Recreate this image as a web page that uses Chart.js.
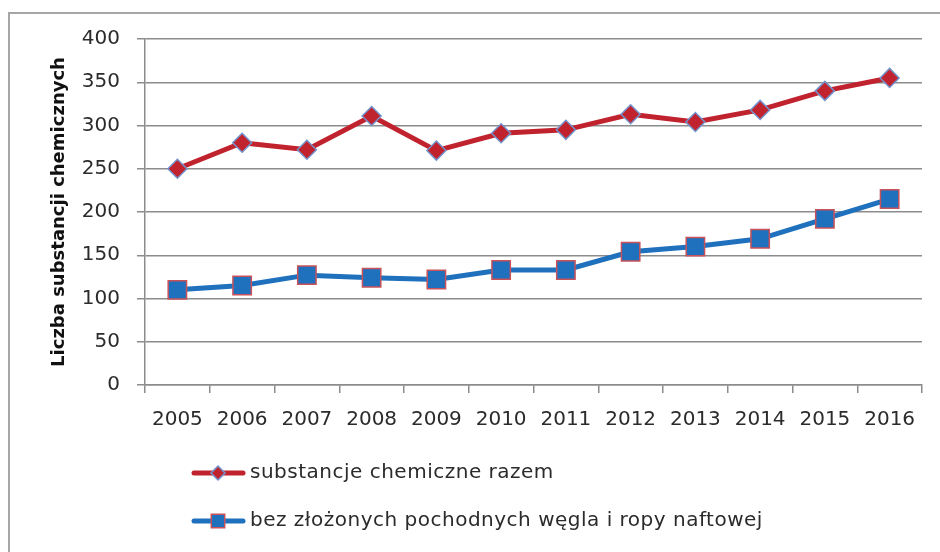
<!DOCTYPE html>
<html lang="pl">

<head>
    <meta charset="UTF-8" />
    <title>Liczba substancji chemicznych</title>
    <script src="https://cdn.jsdelivr.net/npm/chart.js"></script>
    <style>
        body { margin: 0; background: #fff; }
        .ramka {
            position: absolute; left: 8px; top: 12px; width: 1000px; height: 600px;
            border-left: 2px solid #a6a6a6; border-top: 2px solid #a6a6a6;
        }
        .wykres { position: absolute; left: 0; top: 0; width: 940px; height: 552px; }
    </style>
</head>

<body>
    <div class="ramka"></div>
    <div class="wykres">
        <canvas id="grafico" width="940" height="552"></canvas>
    </div>
</body>

</html>

<script>
    // dane
    const lata = ['2005', '2006', '2007', '2008', '2009', '2010', '2011', '2012', '2013', '2014', '2015', '2016'];
    const razem = [250, 280, 272, 311, 271, 291, 295, 313, 304, 318, 340, 355];
    const bezWegla = [110, 115, 127, 124, 122, 133, 133, 154, 160, 169, 192, 215];
    const nazwySerii = ['substancje chemiczne razem', 'bez złożonych pochodnych węgla i ropy naftowej'];
    const tytulOsiY = 'Liczba substancji chemicznych';

    const czcionka = 'DejaVu Sans';
    const kolorTekstu = '#2b2b2b';
    const kolorSiatki = '#8c8c8c';

    // legenda pionowa pod wykresem (jak w Excelu)
    const legendaPionowa = {
        id: 'legendaPionowa',
        afterDraw(chart) {
            const ctx = chart.ctx;
            const pozycjeY = [473, 521];
            chart.data.datasets.forEach((ds, i) => {
                const y = pozycjeY[i];
                ctx.save();
                ctx.strokeStyle = ds.borderColor;
                ctx.lineWidth = ds.borderWidth;
                ctx.lineCap = 'round';
                ctx.beginPath();
                ctx.moveTo(194, y);
                ctx.lineTo(243, y);
                ctx.stroke();
                ctx.fillStyle = ds.pointBackgroundColor;
                ctx.strokeStyle = ds.pointBorderColor;
                ctx.lineWidth = ds.pointBorderWidth;
                Chart.helpers.drawPoint(ctx, {
                    pointStyle: ds.pointStyle,
                    radius: i === 0 ? 7 : 9.5,
                    borderWidth: ds.pointBorderWidth
                }, 218, y);
                ctx.fillStyle = kolorTekstu;
                ctx.font = `20px "${czcionka}"`;
                ctx.letterSpacing = '0.5px';
                ctx.textBaseline = 'middle';
                ctx.fillText(ds.label, 250, y);
                ctx.restore();
            });
        }
    };

    const ctx = document.getElementById('grafico').getContext('2d');

    new Chart(ctx, {
        type: 'line',
        data: {
            labels: lata,
            datasets: [
                {
                    label: nazwySerii[0],
                    data: razem,
                    borderColor: '#c0232d',
                    borderWidth: 5,
                    pointStyle: 'rectRot',
                    pointRadius: 9.5,
                    pointBackgroundColor: '#c0232d',
                    pointBorderColor: '#7393cc',
                    pointBorderWidth: 1.5,
                    tension: 0
                },
                {
                    label: nazwySerii[1],
                    data: bezWegla,
                    borderColor: '#1f70bd',
                    borderWidth: 5,
                    pointStyle: 'rect',
                    pointRadius: 13,
                    pointBackgroundColor: '#1f70bd',
                    pointBorderColor: '#c9525a',
                    pointBorderWidth: 1.5,
                    tension: 0
                }
            ]
        },
        options: {
            responsive: false,
            animation: false,
            devicePixelRatio: 1,
            layout: {
                padding: { top: 39, right: 18, bottom: 0, left: 0 }
            },
            scales: {
                x: {
                    offset: true,
                    afterFit: s => { s.height = 167; },
                    ticks: {
                        color: kolorTekstu,
                        padding: 15,
                        maxRotation: 0,
                        font: { family: czcionka, size: 20 }
                    },
                    grid: {
                        offset: true,
                        drawOnChartArea: false,
                        tickLength: 8,
                        color: kolorSiatki,
                        lineWidth: 1.5
                    },
                    border: { color: kolorSiatki, width: 1.5 }
                },
                y: {
                    min: 0,
                    max: 400,
                    afterFit: s => { s.width = 145; },
                    ticks: {
                        stepSize: 50,
                        color: kolorTekstu,
                        padding: 17,
                        font: { family: czcionka, size: 20 }
                    },
                    grid: {
                        tickLength: 8,
                        color: kolorSiatki,
                        lineWidth: 1.5
                    },
                    border: { color: kolorSiatki, width: 1.5 },
                    title: {
                        display: true,
                        text: tytulOsiY,
                        color: '#111111',
                        padding: { top: 49, bottom: 0 },
                        font: { family: czcionka, size: 18, weight: 'bold' }
                    }
                }
            },
            plugins: {
                legend: { display: false },
                tooltip: { enabled: false }
            }
        },
        plugins: [legendaPionowa]
    });
</script>
